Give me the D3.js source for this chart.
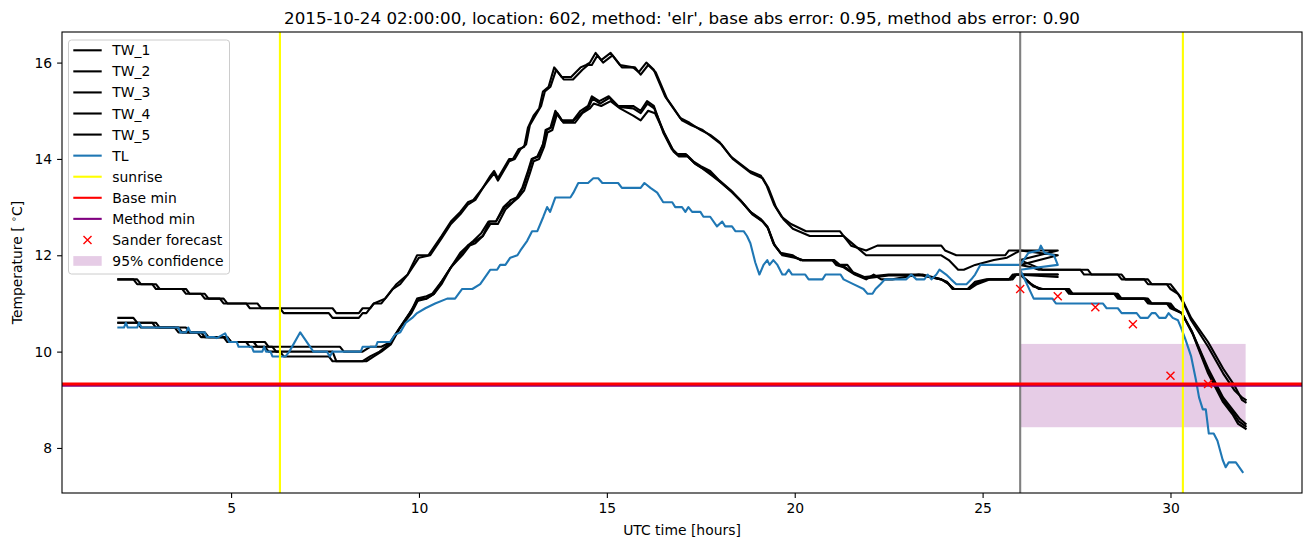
<!DOCTYPE html>
<html><head><meta charset="utf-8">
<script src="https://cdn.jsdelivr.net/npm/d3@7"></script>
<style>body{margin:0;background:#fff}text{font-family:"DejaVu Sans",sans-serif}</style>
</head><body><svg id="c" width="1311" height="547"></svg>
<script>
// ---- data (hour, temperature) ----
const TW_1 = [[2,11.5],[2.4,11.5],[2.5,11.4],[2.9,11.4],[3.0,11.3],[3.7,11.3],[3.8,11.2],[4.2,11.2],[4.3,11.1],[4.7,11.1],[4.8,11.0],[5.4,11.0],[5.5,10.9],[7.7,10.9],[7.8,10.8],[8.4,10.8],[8.5,10.9],[8.7,10.9],[8.8,11.0],[9.0,11.0],[9.1,11.1],[9.2,11.2],[9.4,11.4],[9.7,11.6],[9.95,12.0],[10.25,12.0],[10.6,12.4],[10.85,12.7],[11.1,12.9],[11.3,13.1],[11.45,13.15],[11.7,13.4],[11.9,13.65],[12.0,13.75],[12.1,13.6],[12.4,14.0],[12.5,14.0],[12.65,14.2],[12.8,14.25],[12.9,14.65],[13.05,14.9],[13.2,15.05],[13.3,15.4],[13.45,15.5],[13.6,15.9],[13.8,15.7],[14.05,15.7],[14.3,15.9],[14.45,15.95],[14.55,16.0],[14.7,16.2],[14.85,16.05],[15.1,16.2],[15.35,15.95],[15.7,15.9],[15.85,15.8],[16.05,16.0],[16.25,15.85],[16.55,15.3],[16.95,14.85],[17.2,14.75],[17.5,14.6],[17.75,14.5],[18.0,14.35],[18.3,14.05],[18.55,13.9],[18.8,13.75],[19.1,13.65],[19.25,13.45],[19.45,13.05],[19.65,12.8],[19.9,12.65],[20.3,12.5],[21.2,12.5],[21.5,12.2],[21.9,12.1],[22.2,12.2],[23.9,12.2],[24.0,12.1],[24.3,12.0],[25.6,12.0],[25.7,12.1],[27.0,12.1],
  [26,11.9],[26.3,11.8],[26.6,11.7],[27.8,11.7],[27.9,11.6],[28.6,11.6],[28.7,11.5],[29.4,11.5],[29.5,11.4],[29.9,11.4],[30.0,11.3],[30.2,11.2],[30.35,11.0],[30.55,10.65],[31.0,10.1],[31.4,9.55],[31.7,9.2],[31.9,9.05],[32.0,9.0]];
const TW_2 = [[2,11.5],[2.5,11.5],[2.6,11.4],[3.0,11.4],[3.1,11.3],[3.8,11.3],[3.9,11.2],[4.3,11.2],[4.4,11.1],[4.8,11.1],[4.9,11.0],[5.7,11.0],[5.8,10.9],[6.3,10.9],[6.4,10.8],[7.6,10.8],[7.7,10.7],[8.4,10.7],[8.5,10.8],[8.6,10.8],[8.8,11.0],[9.1,11.1],[9.3,11.3],[9.5,11.4],[9.7,11.6],[10.0,11.95],[10.3,12.0],[10.6,12.35],[10.85,12.65],[11.1,12.85],[11.3,13.05],[11.5,13.15],[11.7,13.4],[11.9,13.6],[12.0,13.7],[12.1,13.55],[12.4,13.95],[12.55,14.0],[12.7,14.2],[12.85,14.3],[12.95,14.7],[13.1,14.9],[13.25,15.1],[13.35,15.4],[13.5,15.5],[13.65,15.85],[13.85,15.65],[14.1,15.65],[14.35,15.85],[14.5,15.95],[14.6,15.95],[14.75,16.15],[14.9,16.0],[15.15,16.15],[15.4,15.9],[15.75,15.9],[15.9,15.75],[16.1,15.95],[16.3,15.8],[16.6,15.25],[17.0,14.8],[17.25,14.7],[17.55,14.6],[17.8,14.45],[18.05,14.3],[18.35,14.0],[18.6,13.85],[18.85,13.7],[19.15,13.6],[19.3,13.4],[19.5,13.0],[19.7,12.75],[19.95,12.55],[20.4,12.4],[21.3,12.4],[21.6,12.2],[21.9,12.0],[23.9,12.0],[24.1,11.9],[24.35,11.7],[24.5,11.7],[24.8,11.8],[25.3,11.9],[25.65,11.95],[26.0,12.1],[27.0,12.0],
  [26,11.8],[26.3,11.75],[26.5,11.7],[27.6,11.7],[27.7,11.6],[28.7,11.6],[28.8,11.5],[29.3,11.5],[29.4,11.4],[30.0,11.4],[30.1,11.3],[30.3,11.1],[30.55,10.7],[31.0,10.2],[31.4,9.65],[31.7,9.3],[31.9,9.0],[32.0,8.95]];
const TW_3 = [[2,10.7],[2.4,10.7],[2.5,10.6],[3.0,10.6],[3.1,10.5],[3.8,10.5],[3.9,10.4],[4.3,10.4],[4.4,10.3],[4.9,10.3],[5.0,10.2],[5.9,10.2],[6.0,10.1],[7.9,10.1],[8.0,10.0],[8.5,10.0],[8.7,10.1],[9.0,10.1],[9.25,10.2],[9.5,10.5],[9.8,10.85],[9.95,11.1],[10.2,11.15],[10.35,11.2],[10.6,11.45],[10.85,11.75],[11.1,12.05],[11.3,12.2],[11.45,12.3],[11.65,12.45],[11.85,12.7],[12.05,12.7],[12.25,13.0],[12.45,13.15],[12.6,13.2],[12.75,13.4],[12.9,13.75],[13.0,14.0],[13.15,14.05],[13.3,14.3],[13.37,14.6],[13.5,14.65],[13.63,15.0],[13.8,14.8],[14.1,14.8],[14.3,15.0],[14.5,15.1],[14.6,15.3],[14.8,15.2],[15.05,15.3],[15.3,15.1],[15.7,15.1],[15.9,15.0],[16.07,15.2],[16.25,15.1],[16.5,14.55],[16.73,14.2],[16.87,14.1],[17.1,14.1],[17.3,13.95],[17.5,13.85],[17.75,13.75],[18.0,13.55],[18.3,13.35],[18.55,13.15],[18.82,12.9],[19.1,12.75],[19.27,12.6],[19.43,12.25],[19.62,12.05],[19.95,12.0],[20.15,11.9],[21.05,11.9],[21.2,11.8],[21.4,11.8],[21.55,11.65],[21.85,11.55],[22.5,11.6],[23.4,11.6],[23.9,11.5],[24.05,11.45],[24.2,11.3],[24.6,11.3],[24.8,11.45],[25.1,11.5],[25.7,11.5],[25.8,11.6],[27.0,11.6],
  [26,11.6],[26.3,11.4],[26.5,11.3],[27.2,11.3],[27.3,11.2],[28.6,11.2],[28.7,11.1],[29.3,11.1],[29.4,11.0],[29.9,11.0],[30.0,10.9],[30.3,10.8],[30.55,10.45],[31.0,9.65],[31.4,9.05],[31.7,8.75],[31.85,8.6],[32.0,8.5]];
const TW_4 = [[2,10.6],[2.9,10.6],[3.0,10.5],[3.6,10.5],[3.7,10.4],[4.1,10.4],[4.2,10.3],[4.8,10.3],[4.9,10.2],[5.4,10.2],[5.5,10.1],[5.9,10.1],[6.0,10.0],[6.3,10.0],[6.4,9.9],[7.6,9.9],[7.7,9.8],[8.6,9.8],[8.8,9.9],[9.0,10.0],[9.25,10.15],[9.5,10.5],[9.8,10.8],[10.0,11.1],[10.2,11.1],[10.4,11.2],[10.6,11.4],[10.85,11.75],[11.15,12.0],[11.35,12.2],[11.5,12.25],[11.7,12.4],[11.9,12.65],[12.1,12.65],[12.3,12.95],[12.5,13.1],[12.65,13.2],[12.8,13.35],[12.95,13.7],[13.05,13.95],[13.2,14.0],[13.33,14.25],[13.42,14.55],[13.55,14.6],[13.68,14.95],[13.85,14.75],[14.15,14.75],[14.35,14.95],[14.55,15.05],[14.65,15.15],[14.85,15.1],[15.1,15.2],[15.35,15.05],[15.7,14.9],[15.9,14.8],[16.1,15.0],[16.28,14.95],[16.55,14.5],[16.78,14.15],[16.92,14.05],[17.15,14.05],[17.35,13.9],[17.55,13.8],[17.8,13.65],[18.05,13.5],[18.35,13.3],[18.6,13.1],[18.87,12.85],[19.15,12.7],[19.3,12.55],[19.47,12.2],[19.67,12.0],[20.0,11.95],[20.2,11.9],[21.0,11.9],[21.1,11.8],[21.3,11.75],[21.6,11.6],[21.9,11.5],[22.1,11.6],[22.3,11.5],[22.6,11.5],[23.3,11.6],[23.9,11.5],[24.1,11.4],[24.25,11.3],[24.65,11.3],[24.85,11.4],[25.2,11.5],[25.8,11.5],[25.9,11.6],[27.0,11.55],
  [26,11.6],[26.35,11.35],[26.6,11.3],[27.3,11.3],[27.4,11.2],[28.5,11.2],[28.6,11.1],[29.4,11.1],[29.5,11.0],[30.0,11.0],[30.1,10.9],[30.3,10.8],[30.6,10.35],[31.0,9.55],[31.4,8.95],[31.65,8.7],[31.8,8.5],[32.0,8.4]];
const TW_5 = [[2,10.6],[2.5,10.6],[2.6,10.5],[3.5,10.5],[3.6,10.4],[4.2,10.4],[4.3,10.3],[4.9,10.3],[5.0,10.2],[5.6,10.2],[5.7,10.1],[6.1,10.1],[6.2,10.0],[7.7,10.0],[7.8,9.8],[8.5,9.8],[8.7,9.9],[8.95,10.0],[9.2,10.15],[9.45,10.45],[9.75,10.8],[9.95,11.05],[10.2,11.1],[10.4,11.2],[10.6,11.45],[10.85,11.75],[11.1,12.0],[11.3,12.2],[11.5,12.3],[11.7,12.4],[11.88,12.7],[12.05,12.7],[12.28,13.0],[12.48,13.1],[12.62,13.2],[12.77,13.4],[12.92,13.75],[13.02,14.0],[13.18,14.05],[13.3,14.3],[13.4,14.6],[13.52,14.65],[13.65,14.95],[13.82,14.78],[14.1,14.78],[14.32,14.95],[14.52,15.08],[14.62,15.25],[14.82,15.15],[15.07,15.27],[15.32,15.08],[15.7,15.05],[15.9,14.95],[16.08,15.15],[16.26,15.05],[16.52,14.55],[16.75,14.2],[16.9,14.08],[17.12,14.08],[17.32,13.92],[17.52,13.82],[17.78,13.7],[18.02,13.52],[18.32,13.32],[18.57,13.12],[18.85,12.88],[19.12,12.72],[19.28,12.58],[19.45,12.22],[19.65,12.03],[19.97,11.97],[20.2,11.9],[21.0,11.9],[21.15,11.8],[21.35,11.75],[21.58,11.62],[21.88,11.52],[22.5,11.58],[23.4,11.58],[23.9,11.5],[24.08,11.42],[24.22,11.3],[24.62,11.3],[24.82,11.42],[25.15,11.5],[25.75,11.5],[25.85,11.6],[27.0,11.6],
  [26,11.6],[26.32,11.38],[26.55,11.3],[27.25,11.3],[27.35,11.2],[28.55,11.2],[28.65,11.1],[29.35,11.1],[29.45,11.0],[29.95,11.0],[30.05,10.9],[30.3,10.8],[30.58,10.4],[31.0,9.6],[31.4,9.0],[31.68,8.72],[31.82,8.55],[32.0,8.45]];
const TL = [[2,10.5],[2.15,10.5],[2.2,10.6],[2.25,10.5],[2.5,10.5],[2.55,10.6],[2.62,10.5],[3.6,10.5],[3.65,10.4],[3.8,10.4],[3.86,10.5],[3.92,10.4],[4.3,10.4],[4.35,10.3],[4.55,10.3],[4.62,10.28],[4.84,10.38],[4.95,10.2],[5.15,10.2],[5.2,10.1],[5.55,10.1],[5.6,10.0],[5.83,10.0],[5.88,10.1],[5.93,10.0],[6.05,10.0],[6.1,9.9],[6.45,9.9],[6.55,10.0],[6.84,10.4],[7.19,10.0],[7.55,10.0],[7.63,9.9],[7.7,10.0],[8.45,10.0],[8.5,10.1],[8.85,10.1],[8.9,10.2],[9.23,10.2],[9.36,10.35],[9.5,10.4],[9.65,10.6],[9.82,10.7],[9.95,10.8],[10.17,10.9],[10.43,11.0],[10.75,11.1],[10.96,11.1],[11.15,11.3],[11.42,11.3],[11.63,11.4],[11.9,11.7],[12.08,11.7],[12.16,11.8],[12.3,11.8],[12.43,11.95],[12.62,12.0],[12.7,12.1],[12.88,12.3],[13.01,12.5],[13.15,12.5],[13.31,12.8],[13.41,13.0],[13.49,12.9],[13.63,13.2],[14.03,13.2],[14.11,13.3],[14.24,13.5],[14.5,13.5],[14.64,13.6],[14.77,13.6],[14.88,13.5],[15.3,13.5],[15.4,13.4],[15.9,13.4],[16.0,13.5],[16.16,13.4],[16.34,13.3],[16.5,13.1],[16.74,13.1],[16.82,13.0],[17.0,13.0],[17.09,12.9],[17.17,13.0],[17.27,12.9],[17.49,12.9],[17.57,12.8],[17.75,12.8],[17.93,12.6],[18.07,12.7],[18.15,12.6],[18.33,12.6],[18.42,12.5],[18.64,12.5],[18.73,12.4],[18.82,12.25],[18.95,11.85],[19.06,11.6],[19.17,11.8],[19.27,11.9],[19.33,11.8],[19.43,11.9],[19.54,11.8],[19.67,11.6],[19.75,11.6],[19.84,11.7],[19.93,11.6],[20.28,11.6],[20.37,11.5],[20.74,11.5],[20.82,11.6],[21.22,11.6],[21.3,11.5],[21.56,11.4],[21.83,11.3],[21.94,11.2],[22.07,11.2],[22.15,11.3],[22.28,11.4],[22.4,11.5],[22.97,11.5],[23.1,11.6],[23.24,11.5],[23.45,11.5],[23.54,11.6],[23.64,11.5],[23.77,11.6],[23.85,11.7],[24.03,11.6],[24.16,11.5],[24.3,11.4],[24.57,11.4],[24.7,11.5],[24.8,11.6],[24.94,11.8],[26.0,11.8],[26.09,11.9],[26.22,12.05],[26.5,12.1],[26.55,12.2],[26.65,12.05],[26.9,12.0],[27.0,11.8],
  [26.0,11.7],[26.36,11.1],[26.86,11.1],[26.95,11.0],[28.2,11.0],[28.3,10.9],[28.6,10.9],[28.7,10.8],[29.1,10.8],[29.2,10.7],[29.4,10.7],[29.5,10.8],[29.6,10.8],[29.7,10.7],[29.87,10.7],[29.95,10.8],[30.06,10.7],[30.2,10.65],[30.28,10.5],[30.4,10.25],[30.55,9.9],[30.68,9.4],[30.76,9.05],[30.86,8.8],[30.94,8.8],[31.02,8.3],[31.15,8.3],[31.25,8.15],[31.39,7.75],[31.47,7.6],[31.55,7.7],[31.74,7.7],[31.92,7.5]];

const seriesNames = ["TW_1","TW_2","TW_3","TW_4","TW_5","TL"];
const seriesData = [TW_1, TW_2, TW_3, TW_4, TW_5, TL];
const seriesColors = ["#000000","#000000","#000000","#000000","#000000","#1f77b4"];
const sunriseHours = [6.3, 30.33];
const forecastHour = [26.0];
const baseMin = 9.33;
const methodMin = 9.30;
const sanderHours = [26, 27, 28, 29, 30, 31];
const sanderValues = [11.3, 11.15, 10.92, 10.57, 9.5, 9.33];
const confHours = [26, 32];
const confLow = 8.43, confHigh = 10.16;
const xTicks = [5, 10, 15, 20, 25, 30];
const yTicks = [8, 10, 12, 14, 16];
const titleText = "2015-10-24 02:00:00, location: 602, method: 'elr', base abs error: 0.95, method abs error: 0.90";
const legendLabels = ["TW_1","TW_2","TW_3","TW_4","TW_5","TL","sunrise","Base min","Method min","Sander forecast","95% confidence"];

// ---- layout ----
const L = 62, R = 1302, T = 32, B = 493;
const svg = d3.select("#c");
const allX = seriesData.flat().map(d => d[0]);
const allY = seriesData.flat().map(d => d[1]).concat([confLow, confHigh], sanderValues);
const [x0, x1] = d3.extent(allX), [y0, y1] = d3.extent(allY);
const px = (x1 - x0) * 0.05, py = (y1 - y0) * 0.05;
const x = d3.scaleLinear().domain([x0 - px, x1 + px]).range([L, R]);
const y = d3.scaleLinear().domain([y0 - py, y1 + py]).range([B, T]);

svg.append("defs").append("clipPath").attr("id", "clip")
  .append("rect").attr("x", L).attr("y", T).attr("width", R - L).attr("height", B - T);
const g = svg.append("g").attr("clip-path", "url(#clip)");

// confidence band
g.append("rect").attr("x", x(confHours[0])).attr("width", x(confHours[1]) - x(confHours[0]))
  .attr("y", y(confHigh)).attr("height", y(confLow) - y(confHigh))
  .attr("fill", "purple").attr("fill-opacity", 0.2);

const line = d3.line().x(d => x(d[0])).y(d => y(d[1]));
seriesData.forEach((s, i) => {
  g.append("path").attr("d", line(s)).attr("fill", "none")
    .attr("stroke", seriesColors[i]).attr("stroke-width", 2.1)
    .attr("stroke-linejoin", "round").attr("stroke-linecap", "square");
});
sunriseHours.forEach(h => g.append("line").attr("x1", x(h)).attr("x2", x(h)).attr("y1", T).attr("y2", B)
  .attr("stroke", "yellow").attr("stroke-width", 2.1));
forecastHour.forEach(h => g.append("line").attr("x1", x(h)).attr("x2", x(h)).attr("y1", T).attr("y2", B)
  .attr("stroke", "gray").attr("stroke-width", 2.1));
g.append("line").attr("x1", L).attr("x2", R).attr("y1", y(methodMin)).attr("y2", y(methodMin))
  .attr("stroke", "purple").attr("stroke-width", 3);
g.append("line").attr("x1", L).attr("x2", R).attr("y1", y(baseMin)).attr("y2", y(baseMin))
  .attr("stroke", "red").attr("stroke-width", 3);

function xMark(sel, cx, cy, r) {
  sel.append("path").attr("d", `M${cx-r},${cy-r}L${cx+r},${cy+r}M${cx-r},${cy+r}L${cx+r},${cy-r}`)
    .attr("stroke", "red").attr("stroke-width", 1.4).attr("fill", "none");
}
sanderHours.forEach((h, i) => xMark(g, x(h), y(sanderValues[i]), 4));

// axes
const xa = svg.append("g").attr("transform", `translate(0,${B})`)
  .call(d3.axisBottom(x).tickValues(xTicks).tickSize(4.9).tickPadding(4.9).tickFormat(d3.format("d")));
const ya = svg.append("g").attr("transform", `translate(${L},0)`)
  .call(d3.axisLeft(y).tickValues(yTicks).tickSize(4.9).tickPadding(4.9).tickFormat(d3.format("d")));
[xa, ya].forEach(a => {
  a.select(".domain").remove();
  a.selectAll("text").attr("font-size", "13.9px").attr("fill", "#000").attr("font-family", "DejaVu Sans");
  a.selectAll("line").attr("stroke", "#000").attr("stroke-width", 1.1);
});
svg.append("rect").attr("x", L).attr("y", T).attr("width", R - L).attr("height", B - T)
  .attr("fill", "none").attr("stroke", "#000").attr("stroke-width", 1.1);

svg.append("text").attr("x", (L + R) / 2).attr("y", 24).attr("text-anchor", "middle")
  .attr("font-size", "16.7px").text(titleText);
svg.append("text").attr("x", (L + R) / 2).attr("y", 535).attr("text-anchor", "middle")
  .attr("font-size", "13.9px").text("UTC time [hours]");
const yl = svg.append("text").attr("transform", `translate(22,${(T + B) / 2}) rotate(-90)`)
  .attr("text-anchor", "middle").attr("font-size", "13.9px");
yl.append("tspan").text("Temperature [ ");
yl.append("tspan").attr("font-size", "9.7px").attr("dy", -5).text("∘");
yl.append("tspan").attr("dy", 5).text("C]");

// legend
const lg = svg.append("g");
lg.append("rect").attr("x", 68.5).attr("y", 40).attr("width", 161).attr("height", 234).attr("rx", 3)
  .attr("fill", "#fff").attr("fill-opacity", 0.8).attr("stroke", "#cccccc").attr("stroke-width", 1);
const legendColors = ["#000","#000","#000","#000","#000","#1f77b4","yellow","red","purple"];
legendLabels.forEach((lab, i) => {
  const cy = 50.3 + i * 21.07;
  if (i < 9) {
    lg.append("line").attr("x1", 73.3).attr("x2", 101.7).attr("y1", cy).attr("y2", cy)
      .attr("stroke", legendColors[i]).attr("stroke-width", i >= 7 ? 2.1 : 2.1);
  } else if (i === 9) {
    xMark(lg, 87.5, cy, 4);
  } else {
    lg.append("rect").attr("x", 73.3).attr("y", cy - 4.9).attr("width", 28.4).attr("height", 9.7)
      .attr("fill", "purple").attr("fill-opacity", 0.2);
  }
  lg.append("text").attr("x", 112.3).attr("y", cy + 5).attr("font-size", "13.9px").text(lab);
});
</script></body></html>
